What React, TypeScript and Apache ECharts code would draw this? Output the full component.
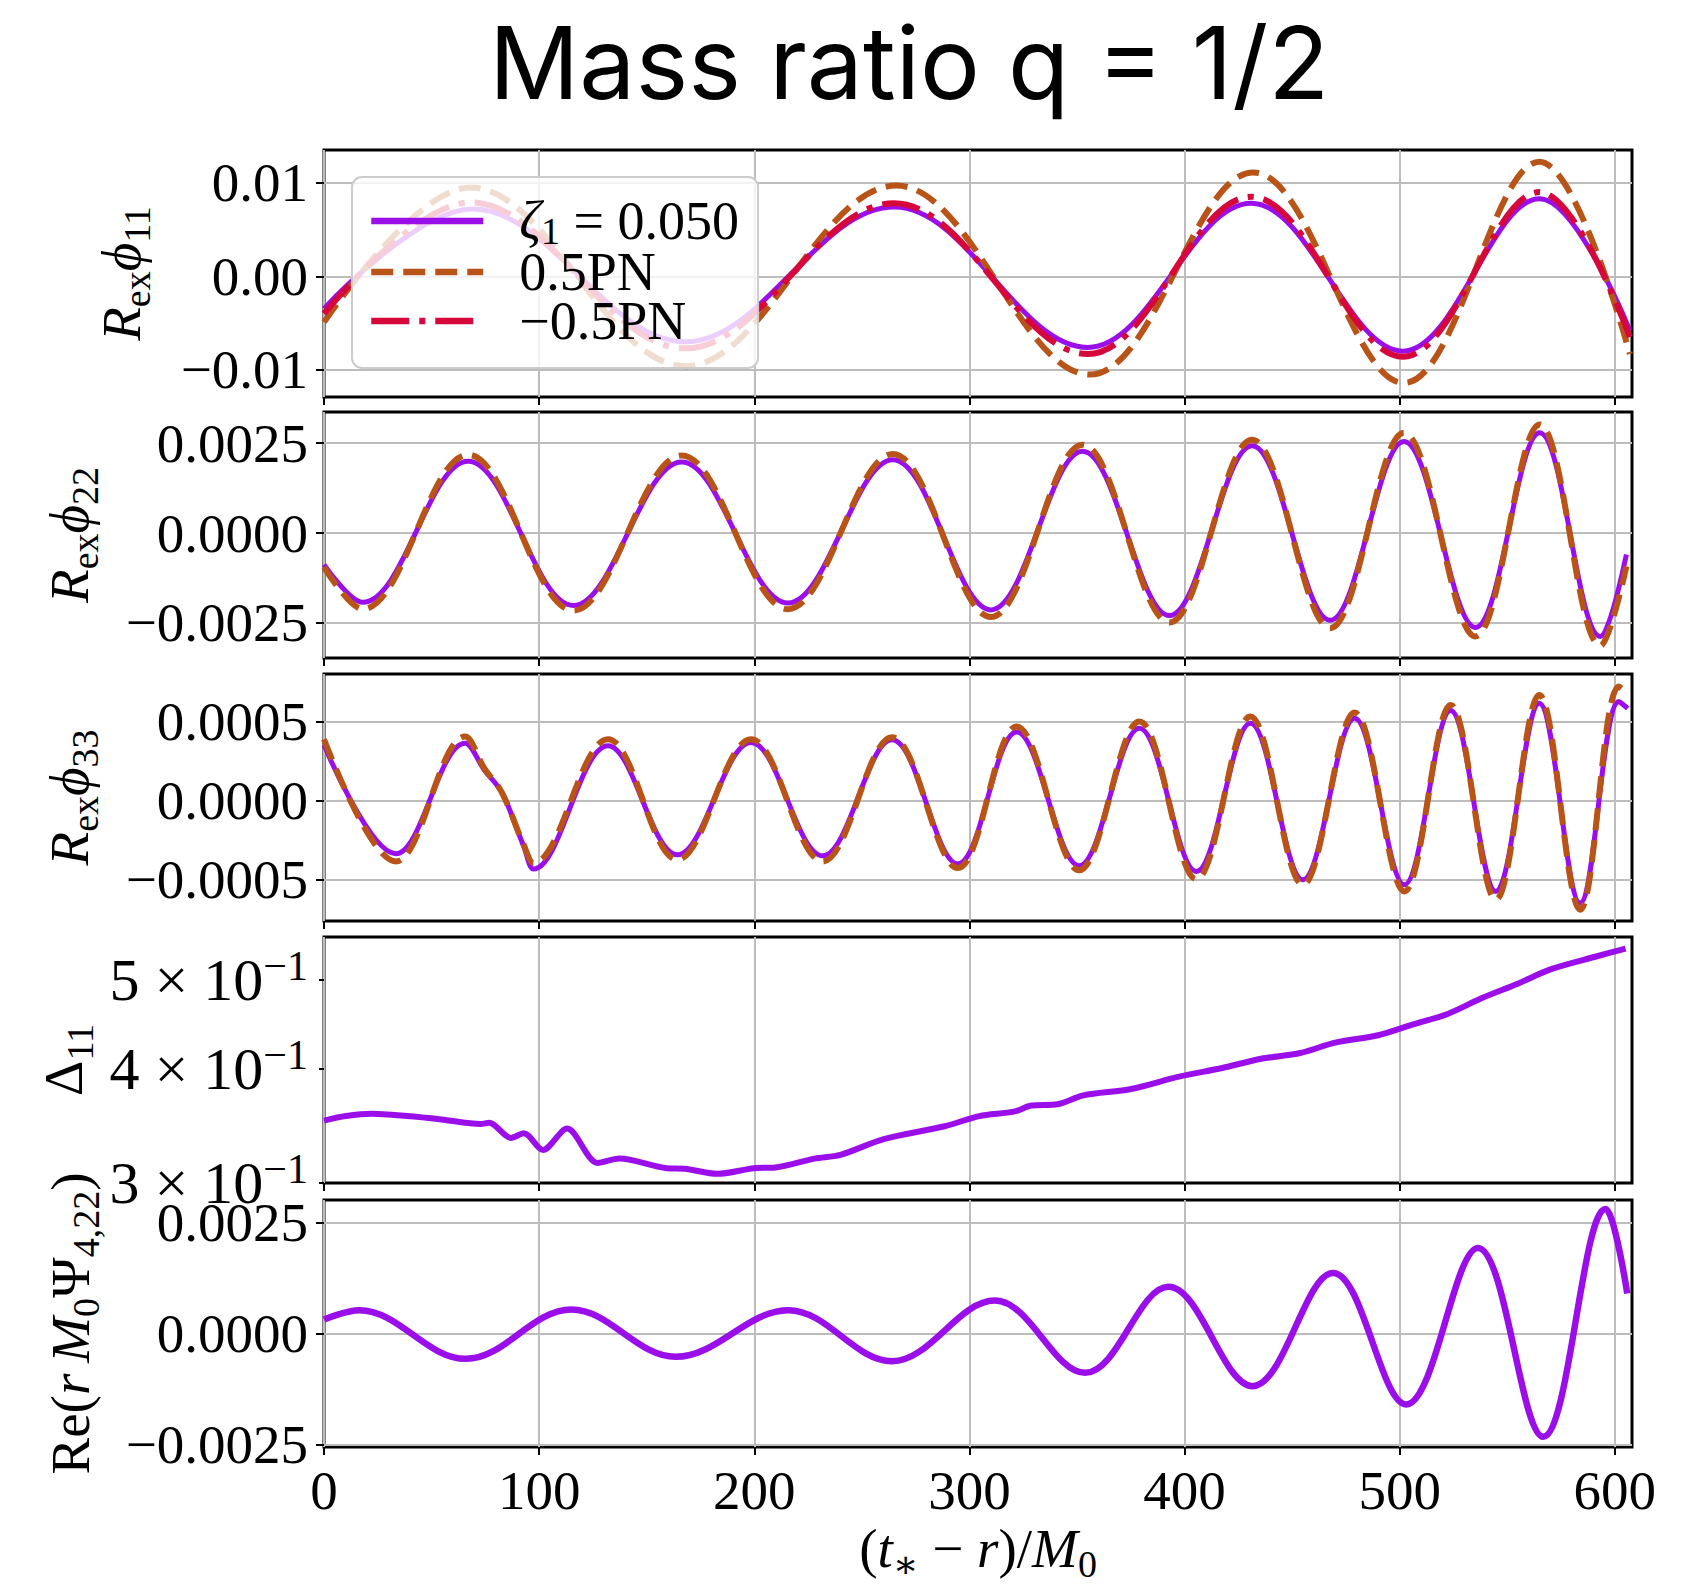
import React, { useEffect, useRef } from "react";
import * as echarts from "echarts";

const SERIF = '"Liberation Serif", "DejaVu Serif", serif';
const SANS = 'Inter, "Liberation Sans", sans-serif';

const TITLE = "Mass ratio q = 1/2";
const X_TICKS = [0, 100, 200, 300, 400, 500, 600];
const X_MAX = 608;

// ---------- Panel 1 : R_ex phi_11 (extrema and end points) ----------
const P1_TICKS = [-0.01, 0, 0.01];
const p1ZetaX = [0, 69, 168, 265, 355, 431, 501.5, 565, 607];
const p1ZetaY = [-0.00345, 0.0072, -0.007, 0.0074, -0.0076, 0.0078, -0.008, 0.0083, -0.0058];
const p1PlusX = [0, 68, 168, 266, 356, 432, 502, 565, 607];
const p1PlusY = [-0.0049, 0.0095, -0.0096, 0.0097, -0.0105, 0.0111, -0.0114, 0.01225, -0.0083];
const p1MinusX = [0, 68, 168, 265, 355, 431, 501.5, 565, 607];
const p1MinusY = [-0.004, 0.0079, -0.0077, 0.0078, -0.0083, 0.0085, -0.0086, 0.009, -0.0065];

// ---------- Panel 2 : R_ex phi_22 ----------
const P2_TICKS = [-0.0025, 0, 0.0025];
const p2X = [0, 17.9, 67, 116, 166.3, 215.7, 264.4, 310, 352.6, 393, 431.4, 467.7, 502, 535.2, 565.1, 593.3, 605.4];
const p2ZetaY = [-0.00088, -0.00193, 0.002, -0.00202, 0.00198, -0.00195, 0.00204, -0.00214, 0.00228, -0.0023, 0.00243, -0.00243, 0.00255, -0.00263, 0.00279, -0.00288, -0.0006];
const p2PlusY = [-0.00095, -0.00212, 0.00218, -0.00216, 0.00216, -0.00212, 0.0022, -0.00234, 0.00246, -0.00249, 0.0026, -0.00265, 0.00279, -0.00288, 0.00302, -0.00314, -0.00093];

// ---------- Panel 3 : R_ex phi_33 ----------
const P3_TICKS = [-0.0005, 0, 0.0005];
const p3X = [0, 33.4, 65.6, 74.7, 82.7, 92.8, 97.4, 132, 164.3, 198.5, 231.8, 264, 294.6, 322, 351, 379, 405.5, 430.6, 455, 479.1, 502.2, 523.7, 544.7, 564.9, 583.9, 601.9, 606];
const p3ZetaY = [0.000353, -0.000338, 0.000364, 0.00019, 0.00005, -0.00029, -0.000435, 0.000347, -0.000345, 0.000368, -0.000351, 0.000385, -0.000402, 0.000435, -0.000414, 0.000459, -0.00045, 0.00049, -0.000503, 0.000522, -0.000535, 0.000571, -0.000577, 0.000617, -0.000651, 0.000628, 0.000585];
const p3PlusY = [0.000389, -0.000387, 0.000406, 0.0002, 0.00005, -0.00028, -0.000397, 0.000389, -0.000376, 0.000389, -0.000387, 0.000402, -0.000429, 0.00047, -0.000443, 0.000501, -0.0005, 0.000533, -0.000535, 0.000558, -0.000577, 0.000607, -0.00063, 0.00067, -0.000693, 0.000723, 0.00068];

// ---------- Panel 4 : Delta_11 (log) ----------
const P4_TICKS = [0.3, 0.4, 0.5];
const p4X = [0, 10.2, 22.3, 38.5, 54.6, 72.7, 76.8, 86.9, 92.9, 101.8, 113, 127.2, 137.3, 159.4, 167.5, 182.8, 199.8, 209.8, 228, 240, 260.2, 288.5, 304.6, 320.7, 328.8, 340.9, 353, 375.2, 397.4, 417.5, 435.6, 453.8, 470, 490, 506.2, 522.3, 538.5, 554.6, 570.7, 590.9, 605];
const p4Y = [0.351, 0.355, 0.357, 0.355, 0.352, 0.348, 0.349, 0.336, 0.34, 0.326, 0.344, 0.3155, 0.319, 0.3114, 0.311, 0.307, 0.3114, 0.312, 0.319, 0.322, 0.335, 0.346, 0.355, 0.359, 0.3645, 0.3657, 0.374, 0.38, 0.392, 0.4006, 0.41, 0.416, 0.427, 0.435, 0.447, 0.459, 0.478, 0.495, 0.514, 0.53, 0.541];

// ---------- Panel 5 : Re(r M0 Psi4,22) ----------
const P5_TICKS = [-0.0025, 0, 0.0025];
const p5X = [0, 16.3, 65.9, 115, 163.5, 215.9, 264, 311.8, 353.8, 392.5, 431.6, 469, 503, 536.4, 566.7, 595.7, 605.8];
const p5Y = [0.000314, 0.000524, -0.000569, 0.000539, -0.000524, 0.000524, -0.000621, 0.000741, -0.000883, 0.001048, -0.001183, 0.001362, -0.001594, 0.001924, -0.00232, 0.0028, 0.000898];

const PURPLE = "#9a0eea";
const BROWN = "#b85418";
const RED = "#d6083b";

const zip = (xs: number[], ys: number[]) => xs.map((x, i) => [x, ys[i]]);

const fmt = (v: number, d: number) => {
  const s = Math.abs(v) < 1e-12 ? (0).toFixed(d) : v.toFixed(d);
  return s.replace("-", "\u2212");
};

const FS = 55;

const NAME_RICH = {
  i: { fontFamily: SERIF, fontStyle: "italic", fontSize: FS, lineHeight: 54, color: "#000" },
  n: { fontFamily: SERIF, fontSize: FS, lineHeight: 54, color: "#000" },
  s: { fontFamily: SERIF, fontSize: 38, height: 22, lineHeight: 22, verticalAlign: "bottom", color: "#000" },
};

const TICK_RICH = {
  n: { fontFamily: SERIF, fontSize: 60, lineHeight: 56, color: "#000" },
  p: { fontFamily: SERIF, fontSize: 42, height: 28, lineHeight: 28, verticalAlign: "top", color: "#000" },
};

const LEG_RICH = {
  g: { width: 31, fontSize: 54, lineHeight: 47 },
  i: { fontFamily: SERIF, fontStyle: "italic", fontSize: 54, lineHeight: 47, color: "#000" },
  n: { fontFamily: SERIF, fontSize: 54, lineHeight: 47, color: "#000" },
  s: { fontFamily: SERIF, fontSize: 38, height: 27, lineHeight: 27, verticalAlign: "bottom", color: "#000" },
};

const GRIDS = [
  { top: 150, height: 247 },
  { top: 412, height: 246 },
  { top: 674, height: 247 },
  { top: 937, height: 246 },
  { top: 1200, height: 247 },
];

const Y_NAMES = [
  "{i|R}{s|ex}{i|\u03d5}{s|11}",
  "{i|R}{s|ex}{i|\u03d5}{s|22}",
  "{i|R}{s|ex}{i|\u03d5}{s|33}",
  "{n|\u0394}{s|11}",
  "{n|Re(}{i|r\u2009M}{s|0}{n|\u03a8}{s|4,22}{n|)}",
];
const Y_NAME_GAPS = [176, 228, 228, 230, 227];
const X_NAME = "{n|(}{i|t}{s|\u2217}{n| \u2212 }{i|r}{n|)/}{i|M}{s|0}";

function buildOption() {
  const gridLine = { show: true, lineStyle: { color: "#bdbdbd", width: 2 } };
  const tick = (values: number[], len = 8) => ({
    show: true,
    inside: false,
    length: len,
    lineStyle: { color: "#000", width: 2 },
    customValues: values,
  });
  const labelStyle = { fontFamily: SERIF, fontSize: FS, lineHeight: 54, color: "#000" };
  const nameStyle = { fontFamily: SERIF, fontSize: FS, lineHeight: 54, color: "#000", rich: NAME_RICH };

  const grid = GRIDS.map((g) => ({
    left: 324,
    width: 1308,
    top: g.top,
    height: g.height,
    show: true,
    borderColor: "#000",
    borderWidth: 3,
    backgroundColor: "transparent",
    containLabel: false,
    outerBoundsMode: "none",
  }));

  const xAxis = GRIDS.map((_, i) => ({
    type: "value",
    gridIndex: i,
    min: 0,
    max: X_MAX,
    axisLine: { show: false, onZero: false },
    axisTick: tick(X_TICKS),
    axisLabel: {
      show: i === 4,
      customValues: X_TICKS,
      margin: 16,
      ...labelStyle,
      formatter: (v: number) => String(Math.round(v)),
    },
    splitLine: gridLine,
    name: i === 4 ? X_NAME : "",
    nameLocation: "middle",
    nameGap: 74,
    nameTextStyle: nameStyle,
  }));

  const linearY = (i: number, min: number, max: number, ticks: number[], dec: number) => ({
    type: "value",
    gridIndex: i,
    min,
    max,
    axisLine: { show: false, onZero: false },
    axisTick: tick(ticks),
    axisLabel: {
      show: true,
      customValues: ticks,
      margin: 16,
      ...labelStyle,
      formatter: (v: number) => fmt(v, dec),
    },
    splitLine: gridLine,
    name: Y_NAMES[i],
    nameLocation: "middle",
    nameRotate: 90,
    nameGap: Y_NAME_GAPS[i],
    nameTextStyle: nameStyle,
  });

  const yAxis = [
    linearY(0, -0.0129, 0.0135, P1_TICKS, 2),
    linearY(1, -0.00348, 0.00337, P2_TICKS, 4),
    linearY(2, -0.000765, 0.000803, P3_TICKS, 4),
    {
      type: "log",
      logBase: 10,
      gridIndex: 3,
      min: 0.3,
      max: 0.557,
      axisLine: { show: false, onZero: false },
      axisTick: tick(P4_TICKS, 5),
      axisLabel: {
        show: true,
        customValues: P4_TICKS,
        margin: 16,
        ...labelStyle,
        lineHeight: 56,
        rich: TICK_RICH,
        formatter: (v: number) => `{n|${Math.round(v * 10)} \u00d7 10}{p|\u22121}`,
      },
      splitLine: { show: false },
      name: Y_NAMES[3],
      nameLocation: "middle",
      nameRotate: 90,
      nameGap: Y_NAME_GAPS[3],
      nameTextStyle: nameStyle,
    },
    linearY(4, -0.00255, 0.003, P5_TICKS, 4),
  ];

  const line = (
    name: string,
    g: number,
    data: number[][],
    color: string,
    width: number,
    type: any,
    z: number,
    smooth = 0.37
  ) => ({
    type: "line",
    name,
    xAxisIndex: g,
    yAxisIndex: g,
    data,
    symbol: "none",
    showSymbol: false,
    smooth,
    silent: true,
    clip: true,
    z,
    itemStyle: { color },
    lineStyle: { color, width, type, cap: "butt", join: "round" },
  });

  const DASH = [22, 10];
  const DASHDOT = [38, 10, 6, 10];

  const series = [
    line("zeta", 0, zip(p1ZetaX, p1ZetaY), PURPLE, 5, "solid", 2),
    line("plus", 0, zip(p1PlusX, p1PlusY), BROWN, 6, DASH, 3),
    line("minus", 0, zip(p1MinusX, p1MinusY), RED, 6, DASHDOT, 3),
    line("zeta22", 1, zip(p2X, p2ZetaY), PURPLE, 5, "solid", 2),
    line("plus22", 1, zip(p2X, p2PlusY), BROWN, 6, DASH, 3),
    line("zeta33", 2, zip(p3X, p3ZetaY), PURPLE, 5, "solid", 2),
    line("plus33", 2, zip(p3X, p3PlusY), BROWN, 6, DASH, 3),
    line("delta11", 3, zip(p4X, p4Y), PURPLE, 6, "solid", 2, 0.3),
    line("psi422", 4, zip(p5X, p5Y), PURPLE, 6.5, "solid", 2),
  ];

  return {
    animation: false,
    backgroundColor: "#ffffff",
    title: {
      text: TITLE,
      left: 484,
      top: 7,
      textStyle: { fontFamily: SANS, fontSize: 100, fontWeight: "normal", color: "#000" },
    },
    legend: {
      orient: "vertical",
      left: 352,
      top: 177,
      padding: [17, 19, 20, 16],
      itemGap: -5,
      itemWidth: 112,
      itemHeight: 14,
      backgroundColor: "rgba(255,255,255,0.8)",
      borderColor: "#cccccc",
      borderWidth: 2,
      borderRadius: 10,
      selectedMode: false,
      itemStyle: { opacity: 0, borderWidth: 0 },
      data: [
        { name: "zeta", lineStyle: { width: 6.5 } },
        { name: "plus", lineStyle: { width: 6.5 } },
        { name: "minus", lineStyle: { width: 6.5 } },
      ],
      formatter: (name: string) =>
        name === "zeta"
          ? "{g| }{i|\u03b6}{s|1}{n| = 0.050}"
          : name === "plus"
          ? "{g| }{n|0.5PN}"
          : "{g| }{n|\u22120.5PN}",
      textStyle: { fontFamily: SERIF, fontSize: 54, lineHeight: 47, color: "#000", rich: LEG_RICH },
    },
    grid,
    xAxis,
    yAxis,
    series,
  };
}

export default function App() {
  const ref = useRef<HTMLDivElement>(null);
  useEffect(() => {
    const chart = echarts.init(ref.current as HTMLDivElement, null, { renderer: "svg" });
    chart.setOption(buildOption() as any);
    return () => chart.dispose();
  }, []);
  return (
    <div
      ref={ref}
      style={{ position: "absolute", left: 0, top: 0, width: 1681, height: 1585, background: "#fff" }}
    />
  );
}
